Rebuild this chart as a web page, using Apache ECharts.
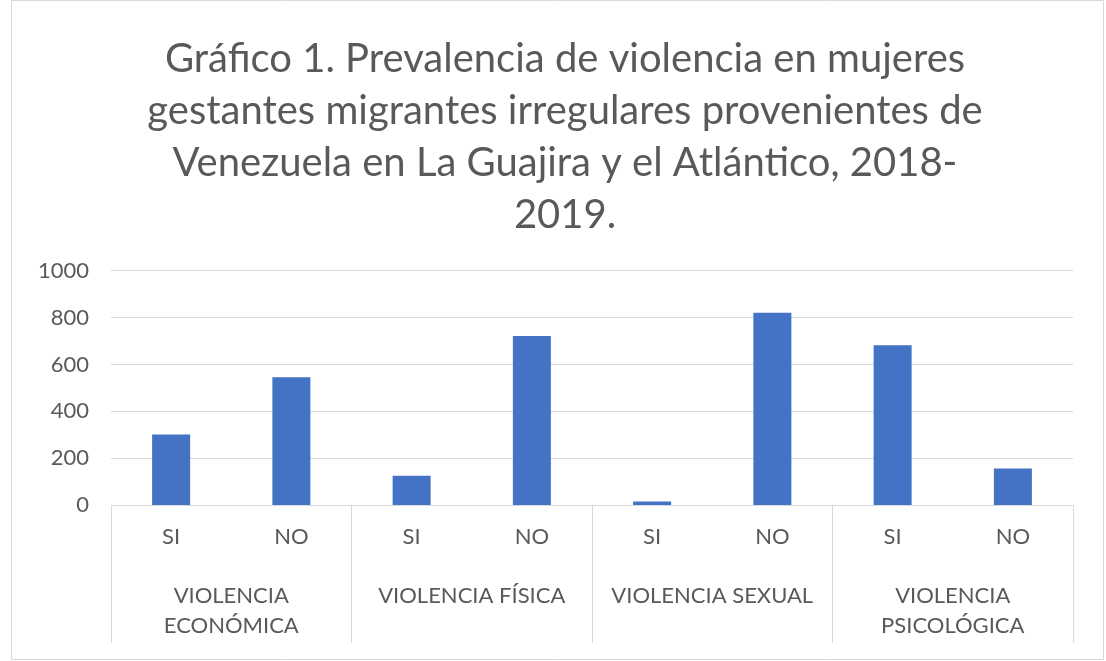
<!DOCTYPE html>
<html>
<head>
<meta charset="utf-8">
<script src="https://cdn.jsdelivr.net/npm/echarts@6/dist/echarts.min.js"></script>
<style>
html,body{margin:0;padding:0;background:#fff;}
#c{width:1106px;height:661px;}
</style>
</head>
<body>
<div id="c"></div>
<script>
const titleText = "Gráfico 1. Prevalencia de violencia en mujeres\ngestantes migrantes irregulares provenientes de\nVenezuela en La Guajira y el Atlántico, 2018-\n2019.";
const answers = ["SI", "NO", "SI", "NO", "SI", "NO", "SI", "NO"];
const groups = ["VIOLENCIA\nECONÓMICA", "VIOLENCIA FÍSICA", "VIOLENCIA SEXUAL", "VIOLENCIA\nPSICOLÓGICA"];
const values = [301, 545, 125, 721, 15, 820, 682, 156];
const yTicks = { min: 0, max: 1000, interval: 200 };

const FONT = 'Lato, "Noto Sans", sans-serif';
const TXT = '#595959';
const LINE = '#d9d9d9';

const chart = echarts.init(document.getElementById('c'), null, { renderer: 'canvas' });
chart.setOption({
  backgroundColor: '#fff',
  animation: false,
  graphic: [{
    type: 'rect',
    shape: { x: 11.5, y: 0.5, width: 1092, height: 659 },
    style: { fill: 'none', stroke: '#d9d9d9', lineWidth: 1 },
    silent: true
  }],
  title: {
    text: titleText,
    left: 560,
    top: 28,
    textAlign: 'center',
    textStyle: {
      fontFamily: FONT,
      fontWeight: 'normal',
      fontSize: 40,
      lineHeight: 52,
      color: TXT
    }
  },
  grid: { left: 111, right: 33, top: 270.7, bottom: 156, containLabel: false },
  xAxis: [{
    type: 'category',
    data: answers,
    position: 'bottom',
    axisLine: { show: true, lineStyle: { color: LINE, width: 1 } },
    axisTick: { show: false },
    axisLabel: { color: TXT, fontFamily: FONT, fontSize: 22, margin: 21 },
    splitLine: { show: false }
  }, {
    type: 'category',
    data: groups,
    position: 'bottom',
    axisLine: { show: false },
    axisTick: { show: true, length: 138, lineStyle: { color: LINE, width: 1 } },
    axisLabel: { color: TXT, fontFamily: FONT, fontSize: 22, margin: 76, lineHeight: 30, interval: 0 },
    splitLine: { show: false }
  }],
  yAxis: {
    type: 'value',
    min: yTicks.min,
    max: yTicks.max,
    interval: yTicks.interval,
    axisLine: { show: false },
    axisTick: { show: false },
    axisLabel: { color: TXT, fontFamily: FONT, fontSize: 22, margin: 22, formatter: function (v) { return String(v); } },
    splitLine: { lineStyle: { color: LINE, width: 1 } }
  },
  series: [{
    type: 'bar',
    xAxisIndex: 0,
    data: values,
    barWidth: 38,
    itemStyle: { color: '#4472C4' }
  }]
});
</script>
</body>
</html>
